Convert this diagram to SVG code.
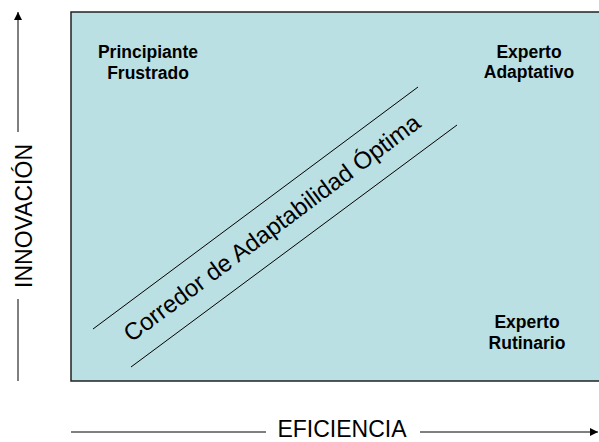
<svg xmlns="http://www.w3.org/2000/svg" width="599" height="442" viewBox="0 0 599 442">
<style>
.lbl{font-family:"Liberation Sans",Arial,sans-serif;font-weight:bold;font-size:17.5px;fill:#000;text-anchor:middle}
.ax{font-family:"Liberation Sans",Arial,sans-serif;font-size:23px;fill:#000;text-anchor:middle}
.ln{stroke:#000;stroke-width:1;fill:none}
</style>
<defs>
<marker id="ah" viewBox="0 0 10 10" refX="10" refY="5" markerWidth="8" markerHeight="8" markerUnits="userSpaceOnUse" orient="auto">
<path d="M0,0 L10,5 L0,10 Z" fill="#000"/>
</marker>
</defs>
<rect id="quadrant" x="71" y="12" width="540" height="369" fill="#BBE0E3" stroke="#222" stroke-width="1.5"/>
<g id="connectors">
<line class="ln" x1="18" y1="132" x2="18" y2="12" marker-end="url(#ah)"/>
<line class="ln" x1="18" y1="299" x2="18" y2="381"/>
<line class="ln" x1="71" y1="432" x2="266" y2="432"/>
<line class="ln" x1="420" y1="432" x2="598" y2="432" marker-end="url(#ah)"/>
<line class="ln" x1="93" y1="329" x2="418" y2="87"/>
<line class="ln" x1="131" y1="367" x2="457" y2="125"/>
</g>
<g id="principiante"><text class="lbl" x="148" y="58">Principiante</text><text class="lbl" x="148" y="79">Frustrado</text></g>
<g id="adaptativo"><text class="lbl" x="529" y="58">Experto</text><text class="lbl" x="529" y="78">Adaptativo</text></g>
<g id="rutinario"><text class="lbl" x="527" y="328">Experto</text><text class="lbl" x="527" y="349">Rutinario</text></g>
<g id="corredor"><text class="ax" style="font-size:24px" transform="translate(272,228) rotate(-36.67)" y="8">Corredor de Adaptabilidad Óptima</text></g>
<g id="innovacion"><text class="ax" transform="translate(32,216) rotate(-90)">INNOVACIÓN</text></g>
<g id="eficiencia"><text class="ax" x="342" y="437">EFICIENCIA</text></g>
</svg>
